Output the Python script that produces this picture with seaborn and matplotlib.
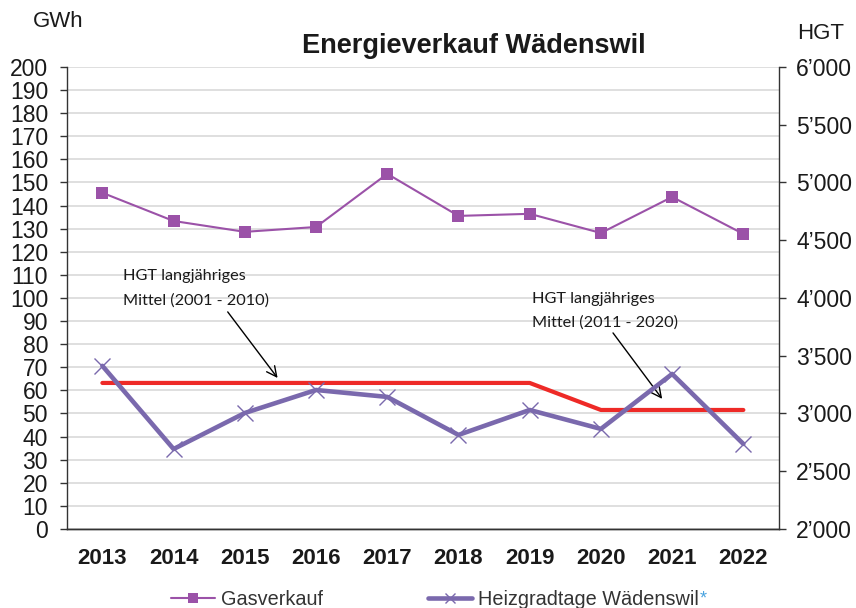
import numpy as np
import pandas as pd
import matplotlib
matplotlib.use("Agg")
import matplotlib.pyplot as plt
import seaborn as sns
from matplotlib.lines import Line2D

years = ["2013", "2014", "2015", "2016", "2017", "2018", "2019", "2020", "2021", "2022"]
gasverkauf = [145.5, 133.3, 128.6, 130.7, 153.7, 135.5, 136.4, 128.1, 143.7, 127.7]
hgt = [3412, 2692, 3004, 3203, 3143, 2814, 3030, 2866, 3342, 2736]
hgt_mittel = [3264, 3264, 3264, 3264, 3264, 3264, 3264, 3030, 3030, 3030]

df = pd.DataFrame({"pos": np.arange(len(years)), "jahr": years,
                   "gas": gasverkauf, "hgt": hgt, "mittel": hgt_mittel})

sns.set_style("white")
plt.rcParams["font.family"] = ["Liberation Sans", "DejaVu Sans"]

c_gas = "#9b52a8"
c_hgt = "#7a69ad"
c_red = "#ee2a27"
c_axis = "#333333"
c_text = "#1a1a1a"

fig = plt.figure(figsize=(8.56, 6.08), dpi=100)
ax = fig.add_axes([0.078, 0.130, 0.832, 0.760])
ax2 = ax.twinx()

sns.lineplot(data=df, x="pos", y="gas", ax=ax, color=c_gas, lw=1.5,
             marker="s", markersize=8, markeredgewidth=0, zorder=5)
sns.lineplot(data=df, x="pos", y="mittel", ax=ax2, color=c_red, lw=3,
             solid_capstyle="round", zorder=3)
sns.lineplot(data=df, x="pos", y="hgt", ax=ax2, color=c_hgt, lw=3.3,
             marker="x", markersize=11, markeredgewidth=1.0,
             markeredgecolor=c_hgt, zorder=4)

ax.set_xlim(-0.5, len(years) - 0.5)
ax.set_ylim(0, 200)
ax2.set_ylim(2000, 6000)
ax.set_yticks(np.arange(0, 201, 10))
ax2.set_yticks(np.arange(2000, 6001, 500))
ax2.set_yticklabels([f"{v // 1000}\u2019{v % 1000:03d}" for v in range(2000, 6001, 500)])

ax.set_xticks(np.arange(len(years)))
ax.set_xticklabels(years, fontweight="bold", fontsize=16)
ax.set_xticks(np.arange(-0.5, len(years)), minor=True)
ax.tick_params(axis="x", which="major", length=0, pad=14, colors=c_text)
ax.tick_params(axis="x", which="minor", length=6, width=1, color=c_axis, direction="out")
ax.tick_params(axis="y", length=5, width=1, color=c_axis, direction="out",
               labelsize=16.5, labelcolor=c_text, pad=8.5)
ax2.tick_params(axis="y", length=5, width=1, color=c_axis, direction="out",
                labelsize=16.5, labelcolor=c_text, pad=7.5)

ax.yaxis.grid(True, color="#d9d9d9", lw=1.2)
ax.set_axisbelow(True)
ax.set_xlabel("")
ax.set_ylabel("")
ax2.set_ylabel("")

for a in (ax, ax2):
    a.spines["top"].set_visible(False)
    for s in ("left", "right", "bottom"):
        a.spines[s].set_color(c_axis)
        a.spines[s].set_linewidth(1)
ax.spines["right"].set_visible(False)
ax2.spines["left"].set_visible(False)

fig.text(0.038, 0.965, "GWh", fontsize=16, color=c_text, va="center")
fig.text(0.931, 0.945, "HGT", fontsize=16, color=c_text, va="center")
fig.text(0.554, 0.925, "Energieverkauf Wädenswil", fontsize=19.5, fontweight="bold",
         color=c_text, ha="center", va="center")

ann_font = ["Lato", "DejaVu Sans"]
# annotation texts and arrows (positions in data coordinates of right axis)
ax2.text(0.29, 4085, "HGT langjähriges\nMittel (2001 - 2010)", fontsize=11.7,
         family=ann_font, color=c_text, linespacing=1.9, ha="left", va="center")
ax2.annotate("", xy=(2.46, 3307), xytext=(1.76, 3879),
             arrowprops=dict(arrowstyle="->", color="black", lw=1,
                             mutation_scale=18, shrinkA=0, shrinkB=0))
ax2.text(6.03, 3888, "HGT langjähriges\nMittel (2011 - 2020)", fontsize=11.7,
         family=ann_font, color=c_text, linespacing=1.9, ha="left", va="center")
ax2.annotate("", xy=(7.86, 3126), xytext=(7.17, 3697),
             arrowprops=dict(arrowstyle="->", color="black", lw=1,
                             mutation_scale=18, shrinkA=0, shrinkB=0))

handles = [
    Line2D([], [], color=c_gas, lw=1.5, marker="s", markersize=7, markeredgewidth=0),
    Line2D([], [], color=c_hgt, lw=3.3, marker="x", markersize=7, markeredgewidth=1),
]
leg = fig.legend(handles, ["Gasverkauf", "Heizgradtage Wädenswil"], loc="center",
                 bbox_to_anchor=(0.508, 0.014), ncol=2, frameon=False, fontsize=14.3,
                 handlelength=2.2, handletextpad=0.3, columnspacing=5.3,
                 labelcolor="#333333")

fig.canvas.draw()
bb = leg.get_texts()[1].get_window_extent().transformed(fig.transFigure.inverted())
fig.text(bb.x1 + 0.001, bb.y1, "*", fontsize=13, color="#4aa3df", va="top", ha="left")

fig.savefig("out.png", dpi=100)
